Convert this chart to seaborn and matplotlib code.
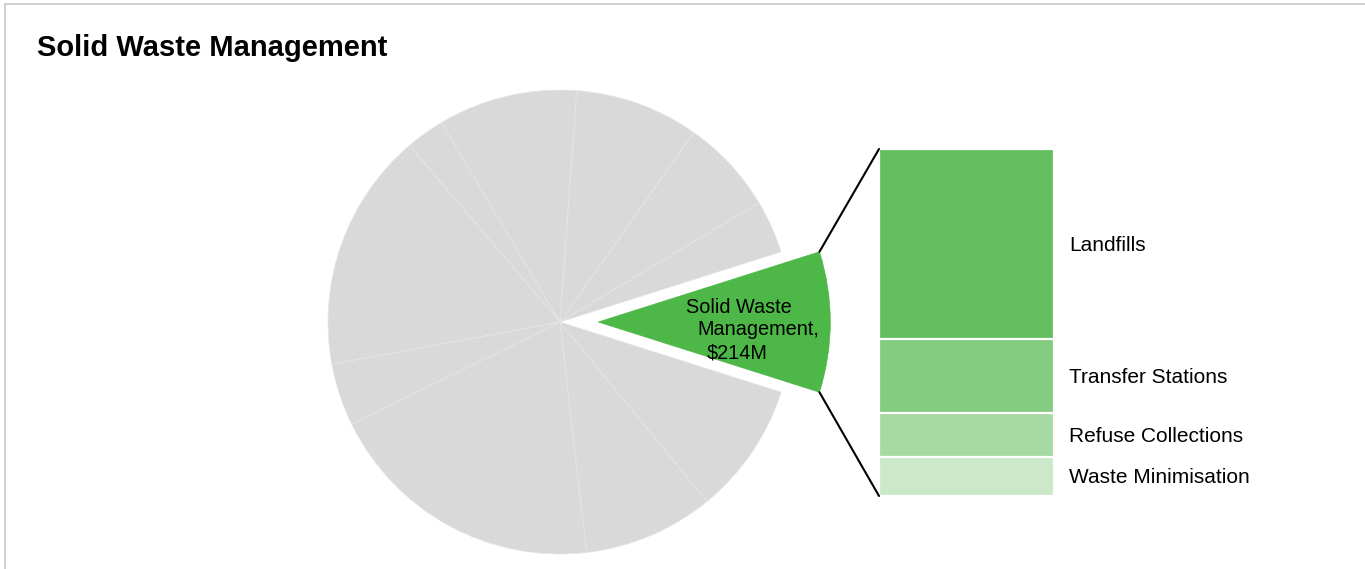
import matplotlib
matplotlib.use("Agg")
import matplotlib.pyplot as plt
from matplotlib.lines import Line2D
from matplotlib.patches import ConnectionPatch
import numpy as np
import seaborn as sns

# ---------------- data ----------------
pie_labels = ["Solid Waste Management", "Service A", "Service B", "Service C", "Service D",
              "Service E", "Service F", "Service G", "Service H", "Service I", "Service J"]
pie_values = [214, 81, 145, 189, 212, 59, 365, 95, 428, 199, 201]   # $M
highlight_label = "Solid Waste\nManagement,\n$214M"

sub_labels = ["Landfills", "Transfer Stations", "Refuse Collections", "Waste Minimisation"]
sub_values = [117, 46, 27, 24]   # $M, top to bottom
sub_colors = ["#62BE5E", "#83CC80", "#A6DAA2", "#CBE9C9"]

title = "Solid Waste Management"

# ---------------- style ----------------
sns.set_theme(style="white")
plt.rcParams["font.family"] = ["Liberation Sans", "DejaVu Sans"]

W, H = 1365, 569
fig = plt.figure(figsize=(W / 100, H / 100), dpi=100)

# outer frame (top and left edges visible)
fig.add_artist(Line2D([5 / W, 1.0], [1 - 4 / H, 1 - 4 / H], color="#C8C8C8", lw=1.2))
fig.add_artist(Line2D([5 / W, 5 / W], [1 - 4 / H, 0], color="#C8C8C8", lw=1.2))

fig.text(37 / W, 1 - 56 / H, title, fontsize=21, fontweight="bold", ha="left", va="baseline",
         color="black")

# ---------------- pie ----------------
R = 232.0
cx, cy = 560.0, 322.0
L = 1.4
side = 2 * L * R
axp = fig.add_axes([(cx - side / 2) / W, (H - cy - side / 2) / H, side / W, side / H])
total = sum(pie_values)
start = -180.0 * pie_values[0] / total
explode = [0.165] + [0] * (len(pie_values) - 1)
colors = ["#4DB848"] + ["#D9D9D9"] * (len(pie_values) - 1)
wedges, _ = axp.pie(pie_values, explode=explode, colors=colors, startangle=start,
                    counterclock=True, radius=1.0,
                    wedgeprops=dict(edgecolor="#E6E6E6", linewidth=0.5))
wedges[0].set_edgecolor("#4DB848")
axp.set_xlim(-L, L)
axp.set_ylim(-L, L)
axp.set_aspect("auto")
axp.axis("off")

# label inside highlighted wedge
lines = highlight_label.split("\n")
offs = [(686, 313), (697, 335), (707, 358)]
for t, (px, py) in zip(lines, offs):
    fig.text(px / W, 1 - py / H, t, fontsize=14.3, ha="left", va="baseline", color="black")

# ---------------- stacked bar ----------------
bx0, bx1, by0, by1 = 879, 1054, 149, 496
axb = fig.add_axes([bx0 / W, (H - by1) / H, (bx1 - bx0) / W, (by1 - by0) / H])
vals_bottom_up = sub_values[::-1]
cols_bottom_up = sub_colors[::-1]
cum = np.cumsum(vals_bottom_up)
# draw largest cumulative first so smaller ones overlay (stacking)
for c, col in zip(cum[::-1], cols_bottom_up[::-1]):
    sns.barplot(x=["Solid Waste"], y=[c], color=col, saturation=1, width=1.0,
                edgecolor="white", linewidth=1.6, ax=axb)
total_sub = sum(sub_values)
axb.set_xlim(-0.5, 0.5)
axb.set_ylim(0, total_sub)
axb.axis("off")
centers = cum - np.array(vals_bottom_up) / 2
for lab, yc in zip(sub_labels[::-1], centers):
    axb.annotate(lab, xy=(0.5, yc), xytext=(10.8, -1), textcoords="offset points",
                 ha="left", va="center", fontsize=15, color="black", annotation_clip=False)

# ---------------- connectors ----------------
half = np.deg2rad(180.0 * pie_values[0] / total)
ex = explode[0]
for sgn, yb in [(1, total_sub), (-1, 0)]:
    xa = ex + np.cos(half)
    ya = sgn * np.sin(half)
    con = ConnectionPatch(xyA=(xa, ya), coordsA=axp.transData,
                          xyB=(-0.5, yb), coordsB=axb.transData,
                          color="black", lw=1.5)
    fig.add_artist(con)

fig.savefig("out.png", dpi=100, facecolor="white")
